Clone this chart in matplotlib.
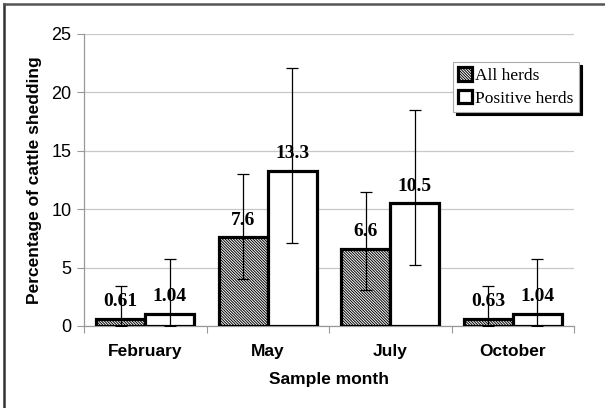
import matplotlib
matplotlib.use("Agg")
import matplotlib.pyplot as plt
import numpy as np
from matplotlib.lines import Line2D

months = ["February", "May", "July", "October"]
all_herds = [0.61, 7.6, 6.6, 0.63]
pos_herds = [1.04, 13.3, 10.5, 1.04]
all_lo = [0.0, 4.0, 3.1, 0.0]
all_hi = [3.4, 13.0, 11.5, 3.4]
pos_lo = [0.0, 7.1, 5.2, 0.0]
pos_hi = [5.7, 22.1, 18.5, 5.7]
labels_all = ["0.61", "7.6", "6.6", "0.63"]
labels_pos = ["1.04", "13.3", "10.5", "1.04"]

plt.rcParams['hatch.linewidth'] = 0.7
plt.rcParams['hatch.color'] = '#333333'
fig = plt.figure(figsize=(6.05, 4.08), dpi=100)
ax = fig.add_axes([84/605, 1-326/408, 490/605, 292/408])

x = np.arange(len(months))
w = 0.4
a = np.array(all_herds); p = np.array(pos_herds)
ax.bar(x - w/2, a, w, color='white', edgecolor='black', linewidth=2.3,
       hatch='\\' * 12, zorder=3, label='All herds')
ax.bar(x + w/2, p, w, color='white', edgecolor='black', linewidth=2.3,
       zorder=3, label='Positive herds')
ax.errorbar(x - w/2, a, yerr=[a - np.array(all_lo), np.array(all_hi) - a],
            fmt='none', ecolor='black', elinewidth=0.9, capsize=4, capthick=0.9, zorder=4)
ax.errorbar(x + w/2, p, yerr=[p - np.array(pos_lo), np.array(pos_hi) - p],
            fmt='none', ecolor='black', elinewidth=0.9, capsize=4, capthick=0.9, zorder=4)

for xi, v, t in zip(x - w/2, a, labels_all):
    ax.annotate(t, (xi, v), xytext=(0, 9), textcoords='offset points', ha='center',
                va='baseline', family='Liberation Serif', weight='bold', fontsize=14, zorder=5)
for xi, v, t in zip(x + w/2, p, labels_pos):
    ax.annotate(t, (xi, v), xytext=(0, 9), textcoords='offset points', ha='center',
                va='baseline', family='Liberation Serif', weight='bold', fontsize=14, zorder=5)

ax.set_xlim(-0.5, 3.5)
ax.set_ylim(0, 25)
ax.set_yticks([0, 5, 10, 15, 20, 25])
ax.yaxis.grid(True, color='#c8c8c8', linewidth=0.9, zorder=0)
ax.set_axisbelow(True)
for s in ['top', 'right']:
    ax.spines[s].set_visible(False)
for s in ['left', 'bottom']:
    ax.spines[s].set_color('#999999')
    ax.spines[s].set_linewidth(0.9)

ax.set_xticks([-0.5, 0.5, 1.5, 2.5, 3.5])
ax.set_xticklabels([])
ax.set_xticks(x, minor=True)
ax.set_xticklabels(months, minor=True, family='Liberation Sans', weight='bold', fontsize=12.5)
ax.tick_params(axis='x', which='major', length=5, color='#999999', direction='out')
ax.tick_params(axis='x', which='minor', length=0, pad=13)
ax.tick_params(axis='y', length=5, color='#999999', labelsize=13, pad=4)
for lab in ax.get_yticklabels():
    lab.set_family('Liberation Sans')

ax.set_xlabel("Sample month", family='Liberation Sans', weight='bold', fontsize=12.5, labelpad=9)
ax.set_ylabel("Percentage of cattle shedding", family='Liberation Sans', weight='bold',
              fontsize=12.5, labelpad=7)

leg = ax.legend(loc='upper right', bbox_to_anchor=(1.01, 0.904), borderaxespad=0,
                frameon=True, fancybox=False, shadow={'color': 'black', 'alpha': 1},
                prop={'family': 'Liberation Serif', 'size': 12.5},
                handlelength=0.8, handleheight=0.8, handletextpad=0.2,
                borderpad=0.3, labelspacing=0.35)
leg.get_frame().set_edgecolor('#aaaaaa')
leg.get_frame().set_linewidth(0.8)

fig.add_artist(Line2D([4/605, 4/605], [0, 1-4/408], color='#333333', linewidth=1.8,
                      transform=fig.transFigure))
fig.add_artist(Line2D([4/605, 1], [1-4/408, 1-4/408], color='#555555', linewidth=1.8,
                      transform=fig.transFigure))

fig.savefig("out.png", dpi=100)
